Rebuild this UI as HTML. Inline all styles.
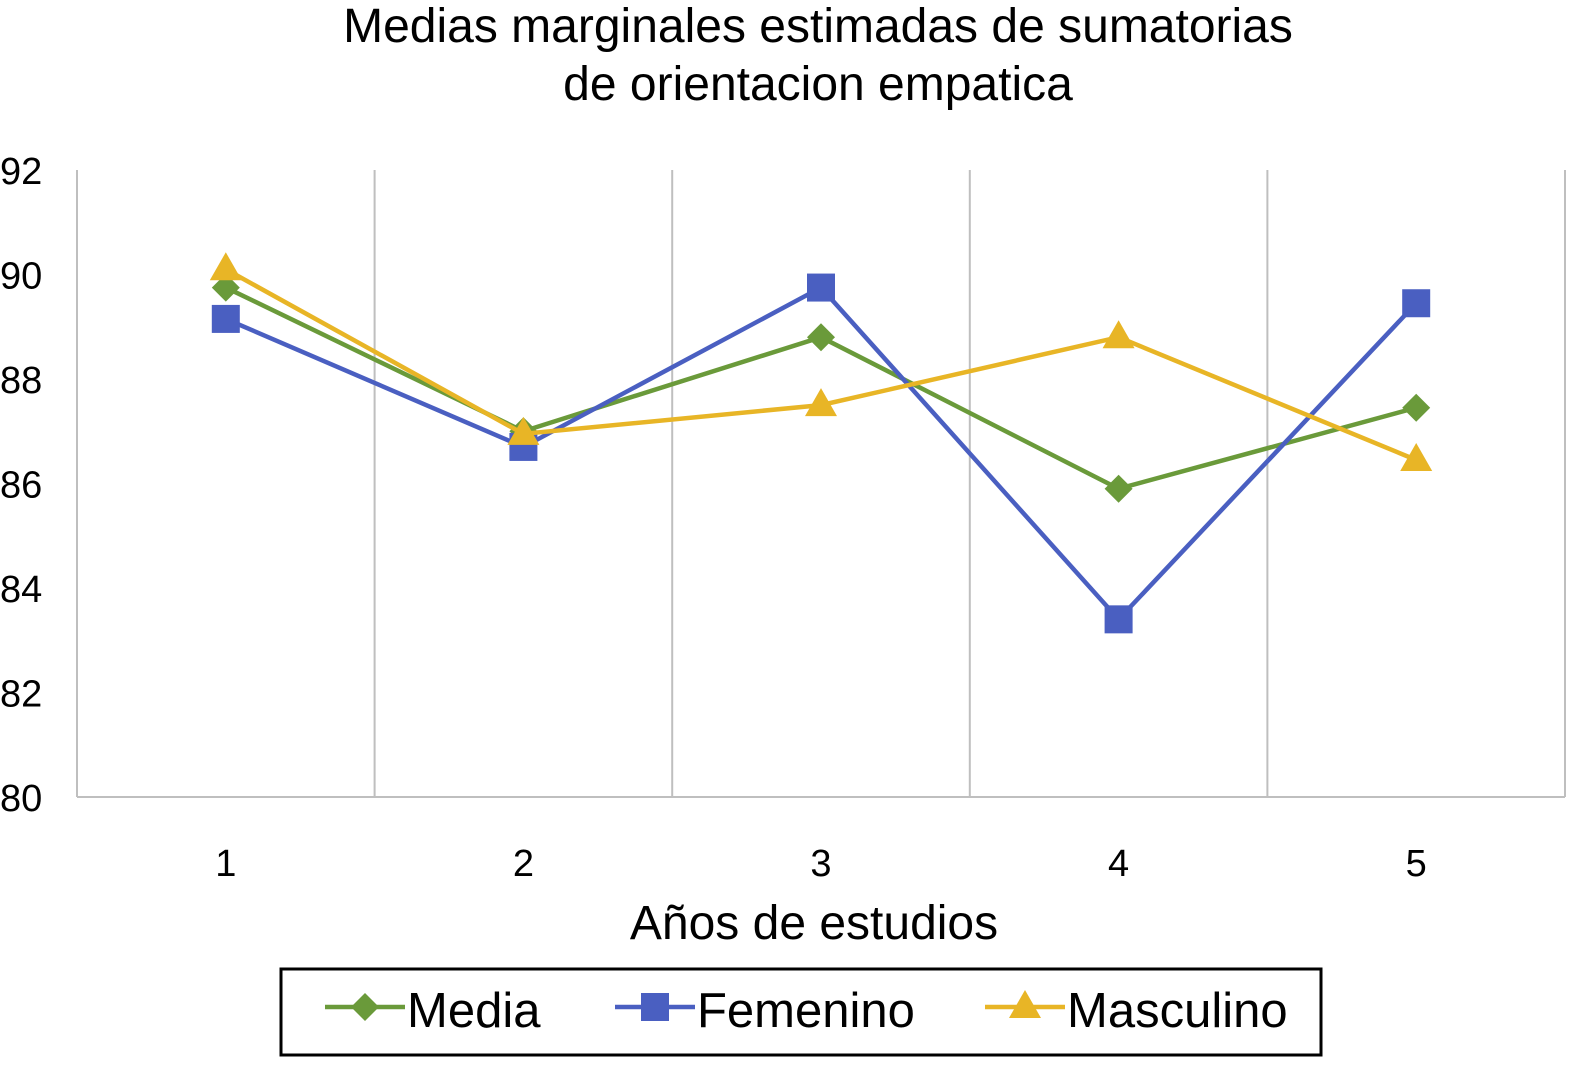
<!DOCTYPE html>
<html><head><meta charset="utf-8"><style>
body{margin:0;background:#fff}
svg text{font-family:"Liberation Sans",Arial,sans-serif;fill:#000}
</style></head><body>
<svg id="chart" width="1573" height="1060">
<text x="818" y="42" font-size="48" text-anchor="middle">Medias marginales estimadas de sumatorias</text>
<text x="818" y="100" font-size="48" text-anchor="middle">de orientacion empatica</text>
<g id="grid"></g><g id="series"></g>
<text x="814" y="939" font-size="48" text-anchor="middle">Años de estudios</text>
<rect x="281" y="969" width="1040" height="86" fill="none" stroke="#000" stroke-width="3"/>
<g id="legend"></g>
</svg>
<script>
const categories=["1","2","3","4","5"];
const media=[89.75,87.0,88.8,85.9,87.45];
const femenino=[89.15,86.7,89.75,83.4,89.45];
const masculino=[90.1,86.95,87.5,88.8,86.45];
const yTicks=[80,82,84,86,88,90,92];
const NS="http://www.w3.org/2000/svg";
const L=77,R=1565,T=170,B=797,ymin=80,ymax=92;
const cw=(R-L)/categories.length;
const x=i=>L+cw*(i+0.5);
const y=v=>B-(v-ymin)/(ymax-ymin)*(B-T);
function mk(tag,a,p){const e=document.createElementNS(NS,tag);for(const k in a)e.setAttribute(k,a[k]);p.appendChild(e);return e;}
const g=document.getElementById('grid');
for(let i=1;i<=categories.length;i++){const l=mk('line',{x1:L+cw*i,x2:L+cw*i,y1:T,y2:B,stroke:'#bfbfbf','stroke-width':2},g);

}
mk('line',{x1:L,x2:L,y1:T,y2:B,stroke:'#bfbfbf','stroke-width':2},g);
const ax=mk('line',{x1:L,x2:R,y1:B,y2:B,stroke:'#bfbfbf','stroke-width':2},g);


yTicks.forEach(t=>{const e=mk('text',{x:0,y:y(t)+14,'font-size':38},g);e.textContent=t;

});
categories.forEach((c,i)=>{const e=mk('text',{x:x(i),y:876,'font-size':38,'text-anchor':'middle'},g);e.textContent=c;

});
function marker(type,cx,cy,col,p){
 if(type==='d')return mk('polygon',{points:`${cx},${cy-14} ${cx+14},${cy} ${cx},${cy+14} ${cx-14},${cy}`,fill:col},p);
 if(type==='s')return mk('rect',{x:cx-14,y:cy-14,width:28,height:28,fill:col},p);
 return mk('polygon',{points:`${cx},${cy-17} ${cx+16},${cy+11} ${cx-16},${cy+11}`,fill:col},p);
}
const S=[[media,'#6a9a3a','d','Media'],[femenino,'#4a5fc1','s','Femenino'],[masculino,'#e8b526','t','Masculino']];
const sg=document.getElementById('series');
S.forEach(([d,col,t,n])=>{
 const pl=mk('polyline',{points:d.map((v,i)=>x(i)+','+y(v)).join(' '),fill:'none',stroke:col,'stroke-width':4.5},sg);
 
 
 d.forEach((v,i)=>{const m=marker(t,x(i),y(v),col,sg);
 
 });
});
const lg=document.getElementById('legend');
const lx=[325,615,985];
S.forEach(([d,col,t,n],k)=>{
 mk('line',{x1:lx[k],x2:lx[k]+80,y1:1007,y2:1007,stroke:col,'stroke-width':4.5},lg);
 marker(t,lx[k]+40,1007,col,lg);
 const e=mk('text',{x:lx[k]+82,y:1027,'font-size':49},lg);e.textContent=n;
 
 
});
</script>
</body></html>
